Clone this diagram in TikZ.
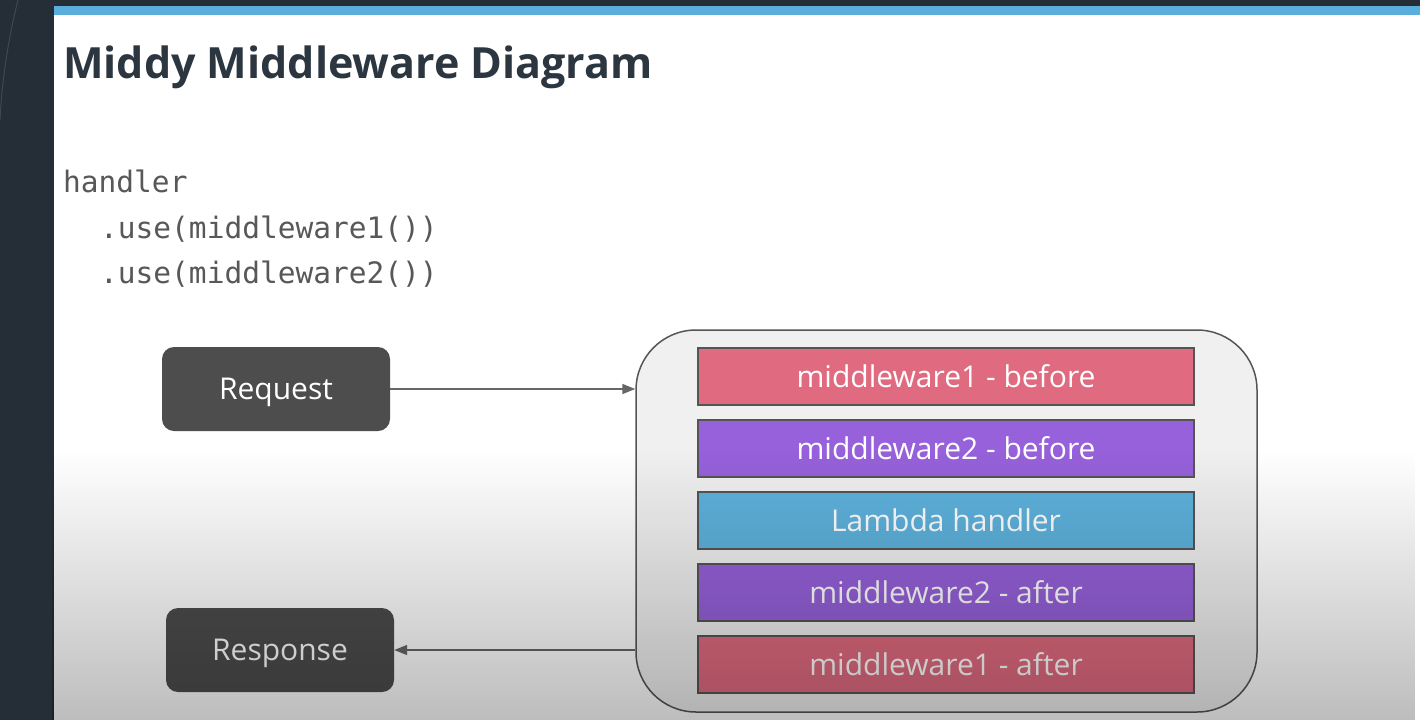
\documentclass[tikz,border=0pt]{standalone}
\usepackage{fontspec}
\setmainfont{Open Sans}
\newfontfamily\codefont{DejaVu Sans Mono}
\usetikzlibrary{arrows.meta,fadings}
\tikzfading[name=fadedown, top color=transparent!100, bottom color=transparent!0]
\definecolor{bgdark}{HTML}{252D36}
\definecolor{barblue}{HTML}{5AAEDB}
\definecolor{titlecol}{HTML}{2B3640}
\definecolor{codecol}{HTML}{585858}
\definecolor{boxgray}{HTML}{4D4D4D}
\definecolor{contfill}{HTML}{F0F0F0}
\definecolor{edgecol}{HTML}{555555}
\definecolor{arrowcol}{HTML}{666666}
\definecolor{mwone}{HTML}{E06B80}
\definecolor{mwtwo}{HTML}{9661DA}
\definecolor{lambdacol}{HTML}{5EB2DD}
\begin{document}
\begin{tikzpicture}[x=1pt,y=-1pt,
  darkbox/.style={fill=boxgray, rounded corners=12pt, minimum width=228pt, minimum height=84pt, text height=27pt, text depth=7pt, text=white, font=\fontsize{30}{34}\selectfont},
  layer/.style={draw=edgecol, line width=1.2pt, minimum width=496pt, minimum height=57pt, text=white, font=\fontsize{30}{34}\selectfont},
  container/.style={draw=edgecol, line width=1.5pt, fill=contfill, rounded corners=60pt, minimum width=621pt, minimum height=382pt},
  conn/.style={draw=arrowcol, line width=1.5pt, -{Triangle[length=13pt,width=10pt]}},
  titletext/.style={anchor=base west, inner sep=0pt, text=titlecol, font=\fontsize{43}{48}\selectfont\bfseries},
  codetext/.style={anchor=base west, inner sep=0pt, text=codecol, font=\fontsize{29.5}{34}\selectfont\codefont}]
\useasboundingbox (0,0) rectangle (1420,720);
% backdrop
\fill[bgdark] (0,0) rectangle (1420,720);
\fill[barblue] (54,6) rectangle (1420,15);
\fill[white] (54,15) rectangle (1420,720);
\draw[white!20!bgdark, line width=1pt, opacity=0.6] (18,0) .. controls (8,40) and (2,80) .. (0,120);
% title and code
\node[titletext] (title) at (63,78) {Middy Middleware Diagram};
\node[codetext] (c1) at (63,192) {handler};
\node[codetext] (c2) at (100,238) {.use(middleware1())};
\node[codetext] (c3) at (100,283) {.use(middleware2())};
% nodes
\node[darkbox] (req) at (276,389) {Request};
\node[darkbox] (res) at (280,650) {Response};
\node[container] (cont) at (946.5,521) {};
\node[layer, fill=mwone] (l1) at (946,376.5) {middleware1 - before};
\node[layer, fill=mwtwo] (l2) at (946,448.5) {middleware2 - before};
\node[layer, fill=lambdacol] (l3) at (946,520.5) {Lambda handler};
\node[layer, fill=mwtwo] (l4) at (946,592.5) {middleware2 - after};
\node[layer, fill=mwone] (l5) at (946,664.5) {middleware1 - after};
% connectors
\draw[conn] (req.east) -- (req.east -| cont.west);
\draw[conn] (res.east -| cont.west) -- (res.east);
% bottom darkening
\fill[black, opacity=0.26, path fading=fadedown] (54,450) rectangle (1420,720);
\end{tikzpicture}
\end{document}
